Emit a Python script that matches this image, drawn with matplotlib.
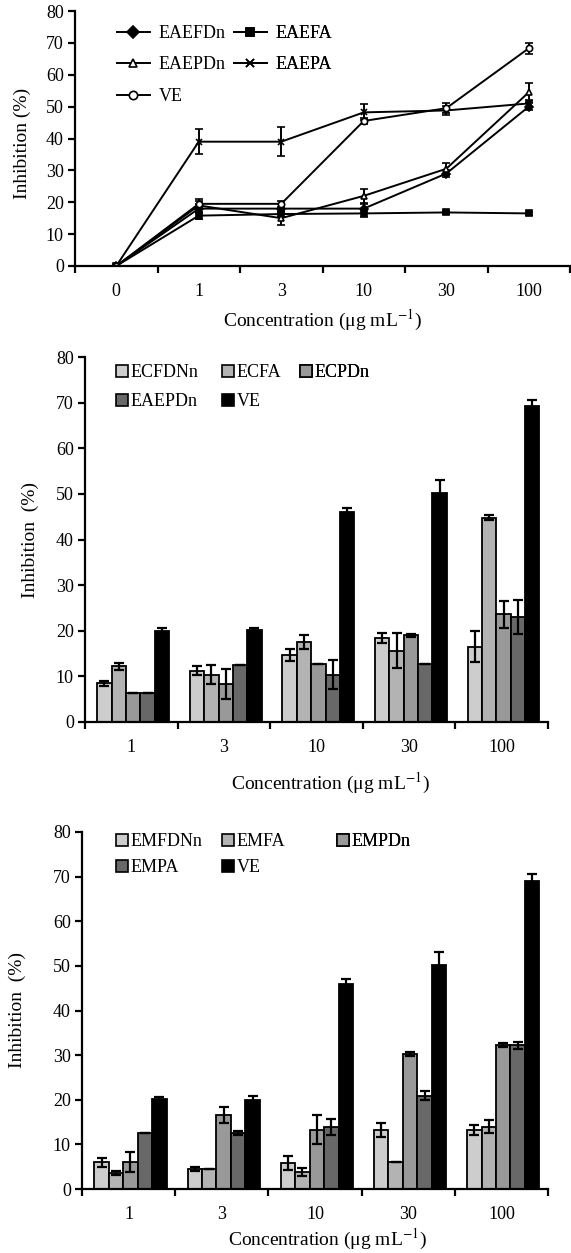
import numpy as np
import matplotlib
matplotlib.use("Agg")
import matplotlib.pyplot as plt
from matplotlib.lines import Line2D
from matplotlib.patches import Patch

plt.rcParams['font.family'] = ['Liberation Serif', 'DejaVu Serif']
plt.rcParams['mathtext.fontset'] = 'stix'

W, H = 571, 1253

# ---- données : graphique du haut (courbes)
conc_top = ['0', '1', '3', '10', '30', '100']
EAEFDn = [0, 18, 18, 18, 29, 50]
EAEFDn_err = [0, 1.5, 1.5, 1.5, 1, 1]
EAEFA = [0, 15.8, 16.3, 16.5, 16.8, 16.5]
EAEFA_err = [0, 1, 1, 1, 0.5, 0.5]
EAEPDn = [0, 19, 15, 22, 30.5, 54.5]
EAEPDn_err = [0, 2, 2, 2.3, 1.8, 3]
EAEPA = [0, 39, 39, 48.2, 48.8, 51]
EAEPA_err = [0, 4, 4.5, 2.5, 1.5, 1]
VE_top = [0, 19.5, 19.5, 45.5, 49.5, 68.3]
VE_top_err = [0, 1, 1, 1, 1.5, 1.8]

# ---- données : histogramme du milieu
conc_bar = ['1', '3', '10', '30', '100']
mid_names = ['ECFDNn', 'ECFA', 'ECPDn', 'EAEPDn', 'VE']
ECFDNn = [8.5, 11.2, 14.6, 18.4, 16.5]
ECFA = [12.2, 10.4, 17.5, 15.6, 44.8]
ECPDn = [6.4, 8.4, 12.8, 19.0, 23.6]
EAEPDn_bar = [6.4, 12.6, 10.4, 12.8, 23.0]
VE_mid = [20.0, 20.2, 46.0, 50.2, 69.2]
mid_err = [[0.5, 1.0, 1.3, 1.0, 3.4],
           [0.8, 2.0, 1.5, 3.8, 0.5],
           [0, 3.3, 0, 0.3, 3.0],
           [0, 0, 3.2, 0, 3.8],
           [0.7, 0.3, 1.0, 2.8, 1.3]]

# ---- données : histogramme du bas
bot_names = ['EMFDNn', 'EMFA', 'EMPDn', 'EMPA', 'VE']
EMFDNn = [6.0, 4.5, 5.8, 13.2, 13.2]
EMFA = [3.6, 4.5, 3.8, 6.0, 14.0]
EMPDn = [6.0, 16.5, 13.3, 30.2, 32.3]
EMPA = [12.5, 12.5, 13.8, 20.9, 32.2]
VE_bot = [20.2, 20.0, 46.0, 50.2, 69.0]
bot_err = [[1.0, 0.5, 1.5, 1.5, 1.2],
           [0.5, 0, 0.8, 0, 1.5],
           [2.2, 1.8, 3.3, 0.4, 0.5],
           [0, 0.5, 1.8, 1.0, 0.8],
           [0.5, 0.8, 1.0, 3.0, 1.5]]

bar_colors = ['#cdcdcd', '#b3b3b3', '#999999', '#686868', '#000000']
xlab = 'Concentration (μg mL$^{-1}$)'

fig = plt.figure(figsize=(W / 100, H / 100), dpi=100)


def rect(x0, x1, y0, y1):
    # pixels -> fraction de figure
    return [x0 / W, 1 - y1 / H, (x1 - x0) / W, (y1 - y0) / H]


def style_axes(ax, n):
    for s in ['top', 'right']:
        ax.spines[s].set_visible(False)
    for s in ['left', 'bottom']:
        ax.spines[s].set_linewidth(1.6)
    ax.set_xlim(-0.5, n - 0.5)
    ax.set_ylim(0, 80)
    ax.set_yticks(np.arange(0, 81, 10))
    ax.set_xticks(np.arange(n))
    ax.set_xticks(np.arange(n + 1) - 0.5, minor=True)
    ax.tick_params(axis='x', which='major', length=0, pad=12, labelsize=13)
    ax.tick_params(axis='x', which='minor', length=5, width=1.6, direction='out')
    ax.tick_params(axis='y', length=5, width=1.6, direction='out', pad=3, labelsize=13)


def legend_col(ax, handles, labels, x, y, **kw):
    leg = ax.legend(handles, labels, loc='upper left', bbox_to_anchor=(x / W, 1 - y / H),
                    bbox_transform=fig.transFigure, frameon=False, borderpad=0,
                    borderaxespad=0, fontsize=13, **kw)
    ax.add_artist(leg)


# ---------------- haut
ax1 = fig.add_axes(rect(75, 570, 11, 266))
style_axes(ax1, 6)
x = np.arange(6)
series = [(EAEFDn, EAEFDn_err, 'D', 'k', 'EAEFDn'),
          (EAEFA, EAEFA_err, 's', 'k', 'EAEFA'),
          (EAEPDn, EAEPDn_err, '^', 'white', 'EAEPDn'),
          (EAEPA, EAEPA_err, 'x', 'k', 'EAEPA'),
          (VE_top, VE_top_err, 'o', 'white', 'VE')]
handles = {}
for vals, err, m, fc, name in series:
    ax1.errorbar(x, vals, yerr=err, color='k', lw=1.4, marker=m, ms=4.5, mfc=fc,
                 mec='k', mew=1.2, capsize=3, elinewidth=1.4, capthick=1.4)
    handles[name] = Line2D([], [], color='k', lw=1.4, marker=m, ms=6, mfc=fc, mec='k', mew=1.2)
ax1.set_xticklabels(conc_top)
ax1.set_ylabel('Inhibition (%)', fontsize=14)
ax1.set_xlabel(xlab, fontsize=14)
ax1.yaxis.set_label_coords(-0.088, 0.48)
ax1.xaxis.set_label_coords(0.5, -0.165)
legend_col(ax1, [handles[k] for k in ['EAEFDn', 'EAEPDn', 'VE']], ['EAEFDn', 'EAEPDn', 'VE'],
           117, 25, handlelength=1.8, handletextpad=0.5, labelspacing=0.8)
legend_col(ax1, [handles[k] for k in ['EAEFA', 'EAEPA']], ['EAEFA', 'EAEPA'],
           234, 25, handlelength=1.8, handletextpad=0.5, labelspacing=0.8)


def bar_chart(ax, data, errs, names, box, leg_rows, leg_cols, lab_x, lab_xx, ls):
    style_axes(ax, 5)
    xb = np.arange(5)
    w = 0.155
    for i, (vals, err) in enumerate(zip(data, errs)):
        ax.bar(xb + (i - 2) * w + 0.02, vals, w, color=bar_colors[i], edgecolor='k', lw=1.3,
               yerr=err, capsize=3.5, error_kw=dict(elinewidth=1.6, capthick=1.6, ecolor='k'),
               zorder=2)
    ax.set_xticklabels(conc_bar)
    ax.set_ylabel('Inhibition  (%)', fontsize=14)
    ax.set_xlabel(xlab, fontsize=14)
    ax.yaxis.set_label_coords(lab_x, 0.5)
    ax.xaxis.set_label_coords(lab_xx, box)
    patches = [Patch(facecolor=bar_colors[i], edgecolor='k', lw=1.2) for i in range(5)]
    for cx, idx in zip(leg_cols, [[0, 3], [1, 4], [2]]):
        legend_col(ax, [patches[i] for i in idx], [names[i] for i in idx], cx, leg_rows,
                   handlelength=0.65, handleheight=0.65, handletextpad=0.15, labelspacing=ls)


ax2 = fig.add_axes(rect(85, 548, 357, 722))
bar_chart(ax2, [ECFDNn, ECFA, ECPDn, EAEPDn_bar, VE_mid], mid_err, mid_names,
          -0.134, 364, [116, 222, 300], -0.10, 0.53, 0.67)

ax3 = fig.add_axes(rect(82, 548, 832, 1189))
bar_chart(ax3, [EMFDNn, EMFA, EMPDn, EMPA, VE_bot], bot_err, bot_names,
          -0.105, 833, [116, 222, 337], -0.12, 0.528, 0.5)

fig.savefig('out.png', dpi=100)
